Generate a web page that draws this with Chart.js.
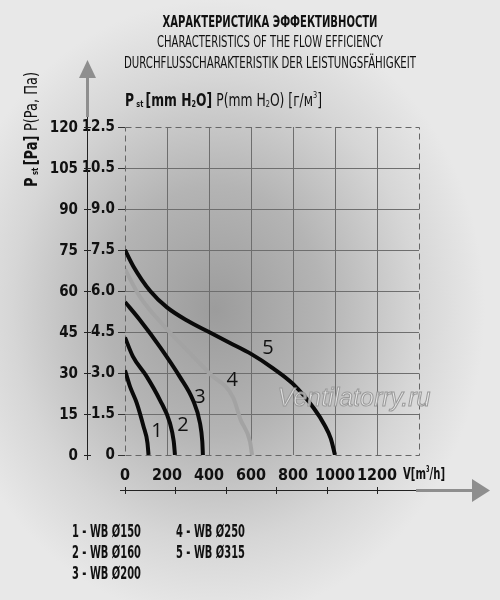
<!DOCTYPE html>
<html>
<head>
<meta charset="utf-8">
<script src="https://cdn.jsdelivr.net/npm/chart.js@4.4.1/dist/chart.umd.min.js"></script>
<style>
    html, body { margin: 0; padding: 0; }
    body {
        width: 500px; height: 600px; overflow: hidden;
        background: radial-gradient(ellipse 270px 310px at 215px 310px, #9c9c9c 0%, #b4b4b4 40%, #d6d6d6 75%, #e8e8e8 100%);
    }
    #wrap { position: relative; width: 500px; height: 600px; }
</style>
</head>
<body>
<div id="wrap"><canvas id="flowChart" width="500" height="600"></canvas></div>
<script>
"use strict";

// ------------------------------------------------------- //
// Data (flow m3/h, pressure Pa)
// ------------------------------------------------------ //
var seriesNames = ["WB Ø150", "WB Ø160", "WB Ø200", "WB Ø250", "WB Ø315"];

var flow150 = [0, 24, 56, 88, 107, 112];
var pa150 = [31, 25, 19, 10.5, 4.4, 0];

var flow160 = [0, 38, 105, 167, 214, 232, 238];
var pa160 = [43, 36, 28.5, 20, 11.7, 5, 0];

var flow200 = [0, 71, 167, 262, 324, 357, 368, 371];
var pa200 = [56, 49.4, 39.5, 28.5, 20, 11.7, 5, 0];

var flow250 = [0, 70, 200, 300, 400, 515, 550, 595, 605];
var pa250 = [68, 58, 46, 38, 30, 21, 13, 5, 0];

var flow315 = [0, 40, 120, 200, 300, 400, 500, 600, 700, 800, 900, 950, 980, 1000];
var pa315 = [75, 69, 60, 54, 49, 45, 41, 37, 32, 26, 17, 11, 6, 0];

// tick labels
var flowTicks = [0, 200, 400, 600, 800, 1000, 1200];
var paTicks = [0, 15, 30, 45, 60, 75, 90, 105, 120];
var mmTicks = ["0", "1.5", "3.0", "4.5", "6.0", "7.5", "9.0", "10.5", "12.5"];

// where the numbers 1..5 sit next to the curves (data units)
var tagFlow = [152, 276, 357, 510, 681];
var tagPa = [8.8, 11, 21, 27.4, 39];

var flowSeries = [flow150, flow160, flow200, flow250, flow315];
var paSeries = [pa150, pa160, pa200, pa250, pa315];
var lineColors = ["#0a0a0a", "#0a0a0a", "#0a0a0a", "#a3a3a3", "#0a0a0a"];

var flowMax = 1400;
var paMax = 120;
var narrow = "'Liberation Sans Narrow', 'DejaVu Sans Condensed', sans-serif";

// draw a run of text parts squeezed to a given width
function drawParts(ctx, parts, x, y, width) {
    var total = 0;
    parts.forEach(function (p) {
        ctx.font = p.font;
        total += ctx.measureText(p.text).width;
    });
    ctx.save();
    ctx.translate(x, y);
    ctx.scale(width / total, 1);
    var cx = 0;
    parts.forEach(function (p) {
        ctx.font = p.font;
        ctx.fillText(p.text, cx, p.dy || 0);
        cx += ctx.measureText(p.text).width;
    });
    ctx.restore();
}

function drawFit(ctx, text, font, cx, y, width) {
    ctx.font = font;
    var w = ctx.measureText(text).width;
    ctx.save();
    ctx.translate(cx, y);
    ctx.scale(width / w, 1);
    ctx.textAlign = "center";
    ctx.fillText(text, 0, 0);
    ctx.restore();
}

var frame = {
    id: "frame",
    beforeDatasetsDraw: function (chart) {
        var ctx = chart.ctx, a = chart.chartArea;
        ctx.save();
        ctx.strokeStyle = "#666";
        ctx.lineWidth = 1;
        ctx.setLineDash([6, 4]);
        ctx.strokeRect(a.left + 0.5, a.top + 0.5, a.right - a.left, a.bottom - a.top);
        ctx.restore();
    }
};

var decor = {
    id: "decor",
    afterDraw: function (chart) {
        var ctx = chart.ctx, a = chart.chartArea;
        var xs = chart.scales.x, ys = chart.scales.y;
        ctx.save();
        ctx.fillStyle = "#111";
        ctx.textBaseline = "alphabetic";

        // titles
        drawFit(ctx, "ХАРАКТЕРИСТИКА ЭФФЕКТИВНОСТИ", "bold 16px " + narrow, 270, 27, 215);
        drawFit(ctx, "CHARACTERISTICS OF THE FLOW EFFICIENCY", "16px " + narrow, 270, 47, 226);
        drawFit(ctx, "DURCHFLUSSCHARAKTERISTIK DER LEISTUNGSFÄHIGKEIT", "16px " + narrow, 270, 67.5, 292);

        // top axis title
        var b17 = "bold 17px " + narrow, r17 = "17px " + narrow;
        var b9 = "bold 9px " + narrow, r9 = "9px " + narrow;
        drawParts(ctx, [
            { text: "P", font: b17 },
            { text: " st ", font: b9, dy: 1 },
            { text: "[mm H", font: b17 },
            { text: "2", font: b9, dy: 1 },
            { text: "O] ", font: b17 },
            { text: "P(mm H", font: r17 },
            { text: "2", font: r9, dy: 1 },
            { text: "O) [г/м", font: r17 },
            { text: "3", font: r9, dy: -8 },
            { text: "]", font: r17 }
        ], a.left, 106, 197);

        // rotated left title
        ctx.save();
        ctx.translate(37, 187);
        ctx.rotate(-Math.PI / 2);
        drawParts(ctx, [
            { text: "P", font: b17 },
            { text: " st ", font: b9, dy: 1 },
            { text: "[Pa] ", font: b17 },
            { text: "P(Pa, Па)", font: r17 }
        ], 0, 0, 115);
        ctx.restore();

        // Pa column with its own axis
        ctx.font = "bold 15px " + narrow;
        ctx.textAlign = "right";
        ctx.textBaseline = "middle";
        ctx.strokeStyle = "#222";
        ctx.lineWidth = 1;
        paTicks.forEach(function (v) {
            var py = ys.getPixelForValue(v);
            ctx.fillText(String(v), 78, py + 1);
            ctx.beginPath();
            ctx.moveTo(84, Math.round(py) + 0.5);
            ctx.lineTo(91, Math.round(py) + 0.5);
            ctx.stroke();
        });
        ctx.beginPath();
        ctx.moveTo(87.5, a.bottom + 5);
        ctx.lineTo(87.5, 117);
        ctx.stroke();
        ctx.strokeStyle = "#8e8e8e";
        ctx.lineWidth = 3;
        ctx.beginPath();
        ctx.moveTo(87.5, 117);
        ctx.lineTo(87.5, 76);
        ctx.stroke();
        ctx.fillStyle = "#8e8e8e";
        ctx.beginPath();
        ctx.moveTo(87.5, 60);
        ctx.lineTo(79, 78);
        ctx.lineTo(96, 78);
        ctx.closePath();
        ctx.fill();

        // bottom arrow
        ctx.strokeStyle = "#222";
        ctx.lineWidth = 1;
        ctx.beginPath();
        ctx.moveTo(120, 490.5);
        ctx.lineTo(416, 490.5);
        for (var k = 0; k <= 5; k++) {
            var tx = Math.round(xs.getPixelForValue(k * 240)) + 0.5;
            ctx.moveTo(tx, 487);
            ctx.lineTo(tx, 494);
        }
        ctx.stroke();
        ctx.strokeStyle = "#8e8e8e";
        ctx.lineWidth = 3;
        ctx.beginPath();
        ctx.moveTo(416, 490.5);
        ctx.lineTo(475, 490.5);
        ctx.stroke();
        ctx.beginPath();
        ctx.moveTo(490, 490.5);
        ctx.lineTo(472, 479);
        ctx.lineTo(472, 502);
        ctx.closePath();
        ctx.fill();

        // V[m3/h]
        ctx.fillStyle = "#111";
        ctx.textAlign = "left";
        ctx.textBaseline = "alphabetic";
        var b16 = "bold 16px " + narrow, b8 = "bold 8px " + narrow;
        drawParts(ctx, [
            { text: "V[m", font: b16 },
            { text: "3", font: b8, dy: -7 },
            { text: "/h]", font: b16 }
        ], 403, 479, 42);

        // curve numbers
        ctx.font = "20px 'Open Sans', sans-serif";
        ctx.textAlign = "center";
        ctx.textBaseline = "middle";
        tagFlow.forEach(function (f, i) {
            ctx.fillText(String(i + 1), xs.getPixelForValue(f), ys.getPixelForValue(tagPa[i]));
        });

        // watermark
        ctx.font = "italic 25px 'Liberation Sans', sans-serif";
        ctx.fillStyle = "rgba(238,238,238,0.7)";
        ctx.strokeStyle = "#999";
        ctx.lineWidth = 1;
        ctx.fillText("Ventilatorry.ru", 354, 399);
        ctx.strokeText("Ventilatorry.ru", 354, 399);

        // legend
        ctx.fillStyle = "#111";
        ctx.textAlign = "left";
        ctx.textBaseline = "alphabetic";
        var b17l = "bold 17px " + narrow;
        chart.data.datasets.forEach(function (ds, i) {
            var col = i < 3 ? 0 : 1;
            var row = i < 3 ? i : i - 3;
            drawParts(ctx, [{ text: (i + 1) + " - " + ds.label, font: b17l }],
                col ? 176 : 72, 537 + row * 21, 69);
        });
        ctx.restore();
    }
};

var FLOWCHART = document.getElementById("flowChart");
var flowChart = new Chart(FLOWCHART, {
    type: "line",
    data: {
        datasets: seriesNames.map(function (name, i) {
            return {
                label: name,
                data: flowSeries[i].map(function (f, j) {
                    return { x: f, y: paSeries[i][j] };
                }),
                borderColor: lineColors[i],
                borderWidth: 4,
                pointRadius: 0,
                fill: false,
                cubicInterpolationMode: "monotone",
                borderCapStyle: "butt"
            };
        })
    },
    options: {
        responsive: false,
        animation: false,
        layout: { padding: { left: 0, top: 127, right: 81, bottom: 115 } },
        plugins: {
            legend: { display: false },
            tooltip: { enabled: false }
        },
        scales: {
            x: {
                type: "linear",
                min: 0,
                max: flowMax,
                afterBuildTicks: function (s) {
                    s.ticks = flowTicks.concat([flowMax]).map(function (v) { return { value: v }; });
                },
                afterFit: function (s) { s.height = 30; },
                ticks: {
                    autoSkip: false,
                    maxRotation: 0,
                    padding: 11,
                    color: "#111",
                    font: { family: narrow, size: 16, weight: "bold" },
                    callback: function (v) { return flowTicks.indexOf(v) >= 0 ? String(v) : ""; }
                },
                grid: {
                    drawTicks: false,
                    lineWidth: 1,
                    color: function (c) {
                        return (c.tick && (c.tick.value === 0 || c.tick.value === flowMax)) ? "rgba(0,0,0,0)" : "#6e6e6e";
                    }
                },
                border: { display: false }
            },
            y: {
                type: "linear",
                min: 0,
                max: paMax,
                afterBuildTicks: function (s) {
                    s.ticks = paTicks.map(function (v) { return { value: v }; });
                },
                afterFit: function (s) { s.width = 125; },
                ticks: {
                    autoSkip: false,
                    padding: 3,
                    color: "#111",
                    font: { family: narrow, size: 15, weight: "bold" },
                    callback: function (v, i) { return mmTicks[i]; }
                },
                grid: {
                    tickLength: 7,
                    tickColor: "#333",
                    lineWidth: 1,
                    color: function (c) {
                        return (c.tick && (c.tick.value === 0 || c.tick.value === paMax)) ? "rgba(0,0,0,0)" : "#6e6e6e";
                    }
                },
                border: { display: false }
            }
        }
    },
    plugins: [frame, decor]
});
</script>
</body>
</html>
